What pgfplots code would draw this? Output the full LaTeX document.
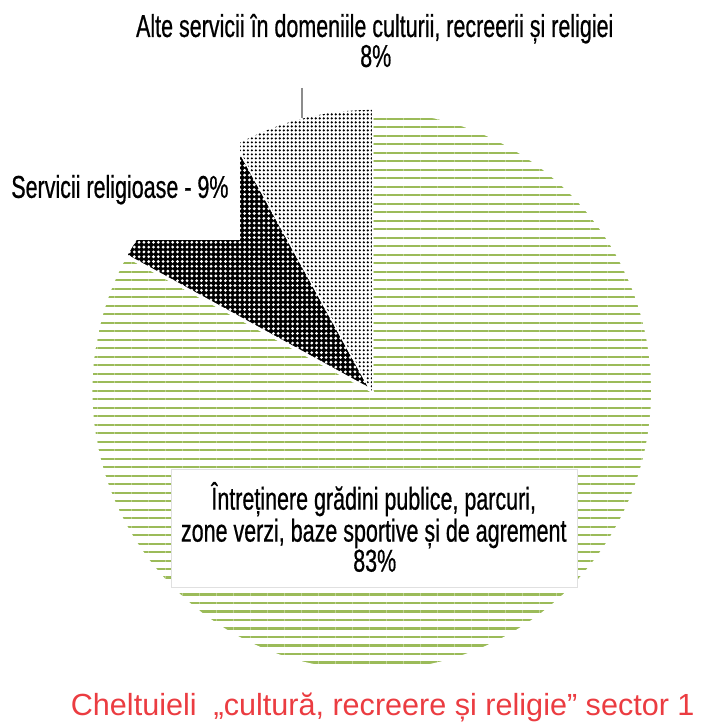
\documentclass[border=0pt]{standalone}
\usepackage{pgfplots}
\pgfplotsset{compat=1.18}
\usepackage{pgfplotstable}
\usepackage{fontspec}
\setmainfont{Liberation Sans}
\newfontfamily\lab[FakeStretch=0.68, FakeBold=0.6]{Liberation Sans}
\usetikzlibrary{patterns,patterns.meta}

\definecolor{stripegreen}{RGB}{155,187,89}
\definecolor{titlered}{RGB}{235,60,65}

% shares of the three slices, clockwise from 12 o'clock
\pgfplotstableread{
share slice
83 gradini
9 religioase
8 alte
}\piedata

\begin{document}
\begin{tikzpicture}[lbl/.style={anchor=base, inner sep=0pt, font=\lab\fontsize{15.8}{17}\selectfont}]
\pgfplotstablegetelem{0}{share}\of\piedata \let\va\pgfplotsretval
\pgfplotstablegetelem{1}{share}\of\piedata \let\vb\pgfplotsretval
\pgfplotstablegetelem{2}{share}\of\piedata \let\vc\pgfplotsretval
\pgfmathsetmacro\aA{90-3.6*\va}
\pgfmathsetmacro\aB{\aA-3.6*\vb}
\pgfmathsetmacro\aC{\aB-3.6*\vc}
\def\R{140.5pt}
\begin{axis}[
    width=351pt, height=361pt,
    scale only axis,
    xmin=0, xmax=702, ymin=0, ymax=722,
    hide axis,
    clip=false,
]
\path (axis cs:0,0) rectangle (axis cs:702,722);

% slices
\filldraw[draw=white, line width=1.5pt,
    pattern={Lines[angle=0, distance=4.25pt, line width=1.1pt]},
    pattern color=stripegreen]
    (axis cs:372,331) -- ++(90:\R) arc[start angle=90, end angle=\aA, radius=\R] -- cycle;
\filldraw[draw=white, line width=1.5pt, fill=black,
    postaction={pattern={Dots[distance=2.4pt, radius=0.78pt]}, pattern color=white}]
    (axis cs:372,331) -- ++(\aA:\R) arc[start angle=\aA, end angle=\aB, radius=\R] -- cycle;
\filldraw[draw=white, line width=1.5pt, fill=white,
    postaction={pattern={Dots[distance=2pt, radius=0.6pt]}, pattern color=black}]
    (axis cs:372,331) -- ++(\aB:\R) arc[start angle=\aB, end angle=\aC, radius=\R] -- cycle;

% label boxes
\fill[white] (axis cs:0,592) rectangle (axis cs:240,482);
\filldraw[fill=white, draw=black!12, line width=0.5pt] (axis cs:172,252) rectangle (axis cs:578,134);
\draw[black!45, line width=0.75pt] (axis cs:302,634) -- (axis cs:302,604);

% labels
\node[lbl] at (axis cs:375,685) {Alte servicii în domeniile culturii, recreerii și religiei};
\node[lbl] at (axis cs:376,655) {8\%};
\node[lbl] at (axis cs:120,524) {Servicii religioase - 9\%};
\node[lbl] at (axis cs:374,212) {Întreținere grădini publice, parcuri,};
\node[lbl] at (axis cs:374,180) {zone verzi, baze sportive și de agrement};
\node[lbl] at (axis cs:375,150) {83\%};
\node[anchor=base, inner sep=0pt, text=titlered, font=\fontsize{15.3}{16}\selectfont]
    at (axis cs:383,6) {Cheltuieli\ \ „cultură, recreere și religie” sector 1};
\end{axis}
\end{tikzpicture}
\end{document}
